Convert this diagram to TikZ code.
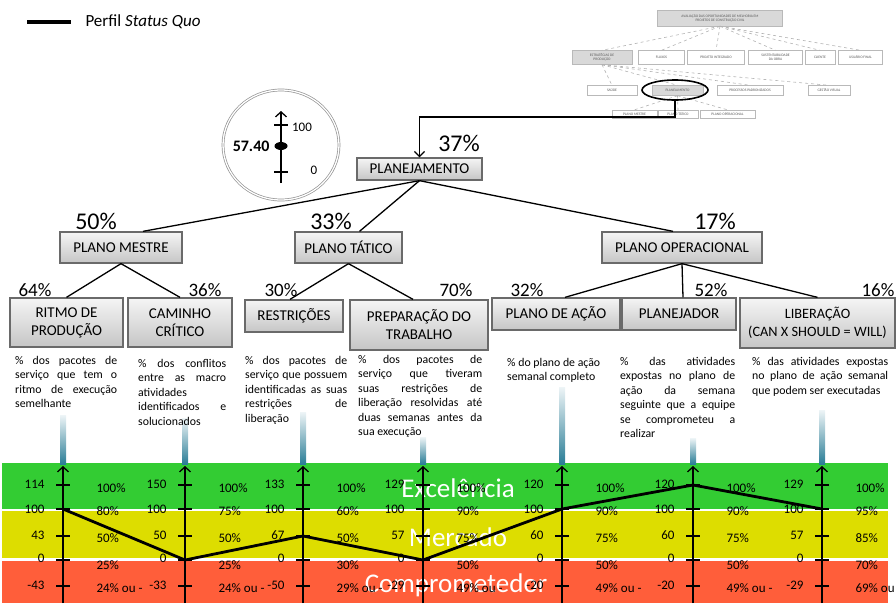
\documentclass[tikz,border=0pt]{standalone}
\usepackage{fontspec}
\setmainfont{Carlito}
\usepackage{tikz}
\usetikzlibrary{shapes.geometric, arrows.meta, positioning, calc}
\definecolor{exgreen}{HTML}{33CC33}
\definecolor{mkyellow}{HTML}{DDDD00}
\definecolor{cpred}{HTML}{FF5E3A}
\definecolor{barteal}{HTML}{2A7D96}
\definecolor{boxgray}{HTML}{6A6A6A}

\begin{document}
\begin{tikzpicture}[
    x=1pt, y=-1pt,
    planbox/.style={rectangle, draw=boxgray, line width=1.3pt,
                   top color=gray!8, bottom color=gray!45,
                   font=\fontsize{15}{18}\selectfont, align=center, inner sep=1pt},
    bigpct/.style={font=\fontsize{24}{26}\selectfont},
    pct/.style={font=\fontsize{19}{21}\selectfont},
    desc/.style={anchor=north west, inner sep=0pt, align=justify,
                font=\fontsize{11.8}{14.5}\selectfont},
    minibox/.style={rectangle, draw=gray!55, fill=white, text=gray!70!black,
                   font=\fontsize{3.6}{4}\selectfont, align=center, inner sep=0.5pt},
    minilink/.style={gray!60, dashed, line width=0.6pt},
    link/.style={line width=1.3pt},
    scaleaxis/.style={-{Straight Barb[length=5pt, width=11pt]}, line width=1.3pt},
    tickval/.style={anchor=east, font=\fontsize{13}{14}\selectfont},
    pctval/.style={anchor=west, font=\fontsize{13}{14}\selectfont},
    bandlabel/.style={text=white, font=\fontsize{27}{28}\selectfont},
    profile/.style={line width=2.8pt, line join=round},
    tealbar/.style={top color=barteal!8, bottom color=barteal}
]
\useasboundingbox (0,0) rectangle (896,603);

% Legend
\coordinate (leg-a) at (27,22);
\coordinate (leg-b) at (71,22);
\draw[profile, line width=3.4pt] (leg-a) -- (leg-b);
\node[anchor=west, font=\fontsize{17}{18}\selectfont] (leg-text) at (82,22) {Perfil \textit{Status Quo}};

% Gauge
\node[ellipse, draw=gray!85, double, double distance=1.3pt, line width=0.7pt,
      minimum width=116pt, minimum height=110pt] (gauge) at (281,145) {};
\coordinate (g-bot) at (281,183);
\coordinate (g-top) at (281,111);
\draw[scaleaxis] (g-bot) -- (g-top);
\draw[line width=1.3pt] (274,125) -- (288,125);
\draw[line width=1.3pt] (274,172) -- (288,172);
\fill (281,146) ellipse (6.5pt and 4pt);
\node[anchor=east, font=\bfseries\fontsize{16}{17}\selectfont] (g-val) at (273,146) {57.40};
\node[font=\fontsize{13}{14}\selectfont] (g-max) at (302,127) {100};
\node[font=\fontsize{13}{14}\selectfont] (g-min) at (314,170) {0};

% Overview tree (top right)
\node[minibox, fill=gray!30, minimum width=125pt, minimum height=16pt] (m-root) at (720,18)
     {AVALIAÇÃO DAS OPORTUNIDADES DE MELHORIA EM\\PROJETOS DE CONSTRUÇÃO CIVIL};
\node[minibox, fill=gray!30, minimum width=60pt, minimum height=14pt] (m-est) at (602,57.5) {ESTRATÉGIAS DE\\PRODUÇÃO};
\node[minibox, minimum width=46pt, minimum height=14pt] (m-flux) at (661.5,57.5) {FLUXOS};
\node[minibox, minimum width=57pt, minimum height=14pt] (m-proj) at (716,57.5) {PROJETO INTEGRADO};
\node[minibox, minimum width=54pt, minimum height=14pt] (m-sust) at (775.5,57.5) {SUSTENTABILIDADE\\DA OBRA};
\node[minibox, minimum width=30pt, minimum height=14pt] (m-cli) at (820,57.5) {CLIENTE};
\node[minibox, minimum width=44pt, minimum height=14pt] (m-usu) at (860.5,57.5) {USUÁRIO FINAL};
\node[minibox, minimum width=50pt, minimum height=10pt] (m-saude) at (612,90.5) {SAÚDE};
\node[minibox, fill=gray!30, minimum width=51pt, minimum height=10pt] (m-plan) at (677.5,90.5) {PLANEJAMENTO};
\node[minibox, minimum width=66pt, minimum height=10pt] (m-proc) at (750,90.5) {PROCESSOS PADRONIZADOS};
\node[minibox, minimum width=42pt, minimum height=10pt] (m-gest) at (829,90.5) {GESTÃO VISUAL};
\node[minibox, minimum width=45pt, minimum height=8pt] (m-pm) at (634.5,114) {PLANO MESTRE};
\node[minibox, minimum width=40pt, minimum height=8pt] (m-pt) at (678,114) {PLANO TÁTICO};
\node[minibox, minimum width=55pt, minimum height=8pt] (m-po) at (727.5,114) {PLANO OPERACIONAL};

\foreach \m in {m-est, m-flux, m-proj, m-sust, m-cli, m-usu}
    \draw[minilink] (m-root.south) -- (\m.north);
\foreach \m in {m-saude, m-plan, m-proc, m-gest}
    \draw[minilink] (m-est.south) -- (\m.north);
\foreach \m in {m-pm, m-pt, m-po}
    \draw[minilink] (m-plan.south) -- (\m.north);
\node[ellipse, draw, line width=1.6pt, minimum width=66pt, minimum height=20pt] (sel) at (675,90) {};

% Planning tree
\node[planbox, minimum width=125pt, minimum height=22pt] (planej) at (419.5,169) {PLANEJAMENTO};
\node[bigpct] (pct-planej) at (459,143) {37\%};

\node[planbox, minimum width=122pt, minimum height=31pt] (mestre) at (121,247.5) {PLANO MESTRE};
\node[bigpct] (pct-mestre) at (96,221) {50\%};
\node[planbox, minimum width=107pt, minimum height=31pt] (tatico) at (348.5,247.5) {PLANO TÁTICO};
\node[bigpct] (pct-tatico) at (331,221) {33\%};
\node[planbox, minimum width=160pt, minimum height=31pt] (operac) at (682,247.5) {PLANO OPERACIONAL};
\node[bigpct] (pct-operac) at (715,221) {17\%};

\node[planbox, minimum width=113pt, minimum height=49pt] (ritmo) at (66.5,322.5) {RITMO DE\\PRODUÇÃO};
\node[pct] (pct-ritmo) at (35,290) {64\%};
\node[planbox, minimum width=104pt, minimum height=49pt] (caminho) at (180,322.5) {CAMINHO\\CRÍTICO};
\node[pct] (pct-caminho) at (205,290) {36\%};
\node[planbox, minimum width=98pt, minimum height=32pt] (restr) at (294,316) {RESTRIÇÕES};
\node[pct] (pct-restr) at (281,290) {30\%};
\node[planbox, minimum width=138pt, minimum height=50pt] (prepar) at (419,325) {PREPARAÇÃO DO\\TRABALHO};
\node[pct] (pct-prepar) at (456,290) {70\%};
\node[planbox, minimum width=128pt, minimum height=32pt] (acao) at (556,314) {PLANO DE AÇÃO};
\node[pct] (pct-acao) at (527,290) {32\%};
\node[planbox, minimum width=114pt, minimum height=32pt] (planejador) at (679,314) {PLANEJADOR};
\node[pct] (pct-planejador) at (711,290) {52\%};
\node[planbox, font=\fontsize{14.3}{18}\selectfont, minimum width=155pt, minimum height=50pt] (liber) at (817.5,323)
     {LIBERAÇÃO\\(CAN X SHOULD = WILL)};
\node[pct] (pct-liber) at (878,290) {16\%};

% Tree links
\coordinate (bend) at (0,117);
\draw[link, -{Straight Barb[length=5pt, width=10pt]}] (sel.south) -- (sel.south |- bend) -| (planej.north);
\draw[link] (planej.south) -- ([xshift=22pt]mestre.north);
\draw[link] (planej.south) -- ([xshift=11pt]tatico.north);
\draw[link] (planej.south) -- ([xshift=-9pt]operac.north);
\draw[link] (mestre.south) -- (ritmo.north);
\draw[link] (mestre.south) -- (caminho.north);
\draw[link] (tatico.south) -- ([xshift=-4pt]restr.north);
\draw[link] (tatico.south) -- ([xshift=-6pt]prepar.north);
\draw[link] (operac.south) -- ([xshift=9pt]acao.north);
\draw[link] (operac.south) -- ([xshift=4pt]planejador.north);
\draw[link] (operac.south) -- (liber.north);

% Performance bands
\fill[exgreen] (2,463) rectangle (888,509);
\fill[mkyellow] (2,511) rectangle (888,558);
\fill[cpred] (2,561) rectangle (888,603);
\node[bandlabel] (lab-exc) at (458,488) {Excelência};
\node[bandlabel] (lab-mer) at (458,537) {Mercado};
\node[bandlabel] (lab-comp) at (456,585) {Comprometedor};

% Indicator scales
\foreach \n/\ax/\bt/\va/\vb/\vc/\vd/\ve/\pa/\pb/\pc/\pd/\pe in {
    1/63/415/114/100/43/0/-43/100\%/80\%/50\%/25\%/24\% ou -,
    2/185/418/150/100/50/0/-33/100\%/75\%/50\%/25\%/24\% ou -,
    3/303/412/133/100/67/0/-50/100\%/60\%/50\%/30\%/29\% ou -,
    4/423/437/129/100/57/0/-29/100\%/90\%/75\%/50\%/49\% ou -,
    5/562/387/120/100/60/0/-20/100\%/90\%/75\%/50\%/49\% ou -,
    6/693/438/120/100/60/0/-20/100\%/90\%/75\%/50\%/49\% ou -,
    7/822/410/129/100/57/0/-29/100\%/95\%/85\%/70\%/69\% ou}{
    \shade[tealbar] (\ax-3,\bt) rectangle (\ax+3,464);
    \coordinate (ax\n-b) at (\ax,603);
    \coordinate (ax\n-t) at (\ax,466);
    \draw[scaleaxis] (ax\n-b) -- (ax\n-t);
    \foreach \y in {485,509,536,560,586}
        \draw[line width=1.3pt] (\ax-7,\y) -- (\ax+7,\y);
    \node[tickval] (ax\n-v1) at (\ax-15,484) {\va};
    \node[tickval] (ax\n-v2) at (\ax-15,509) {\vb};
    \node[tickval] (ax\n-v3) at (\ax-15,535) {\vc};
    \node[tickval] (ax\n-v4) at (\ax-15,558) {\vd};
    \node[tickval] (ax\n-v5) at (\ax-15,585) {\ve};
    \node[pctval] (ax\n-p1) at (\ax+30,488) {\pa};
    \node[pctval] (ax\n-p2) at (\ax+30,511) {\pb};
    \node[pctval] (ax\n-p3) at (\ax+30,538) {\pc};
    \node[pctval] (ax\n-p4) at (\ax+30,565) {\pd};
    \node[pctval] (ax\n-p5) at (\ax+30,588) {\pe};
}

% Indicator descriptions
\node[desc, text width=102pt] (d-ritmo) at (15,356)
     {\% dos pacotes de\linebreak serviço que tem o\linebreak ritmo de execução\linebreak semelhante};
\node[desc, text width=88pt] (d-caminho) at (138,359)
     {\% dos conflitos\linebreak entre as macro\linebreak atividades\linebreak identificados e\linebreak solucionados};
\node[desc, text width=102pt] (d-restr) at (245,356)
     {\% dos pacotes de\linebreak serviço que possuem\linebreak identificadas as suas\linebreak restrições de\linebreak liberação};
\node[desc, text width=124pt] (d-prepar) at (358,355)
     {\% dos pacotes de\linebreak serviço que tiveram\linebreak suas restrições de\linebreak liberação resolvidas até\linebreak duas semanas antes da\linebreak sua execução};
\node[desc, align=left] (d-acao) at (507,358) {\% do plano de ação\\semanal completo};
\node[desc, text width=115pt] (d-planejador) at (620,357)
     {\% das atividades\linebreak expostas no plano de\linebreak ação da semana\linebreak seguinte que a equipe\linebreak se comprometeu a\linebreak realizar};
\node[desc, text width=136pt] (d-liber) at (752,357)
     {\% das atividades expostas\linebreak no plano de ação semanal\linebreak que podem ser executadas};

% Status quo profile
\coordinate (sq1) at (63,509);
\coordinate (sq2) at (185,560);
\coordinate (sq3) at (303,536);
\coordinate (sq4) at (423,560);
\coordinate (sq5) at (562,509);
\coordinate (sq6) at (693,485);
\coordinate (sq7) at (822,509);
\draw[profile] (sq1) -- (sq2) -- (sq3) -- (sq4) -- (sq5) -- (sq6) -- (sq7);

\end{tikzpicture}
\end{document}
